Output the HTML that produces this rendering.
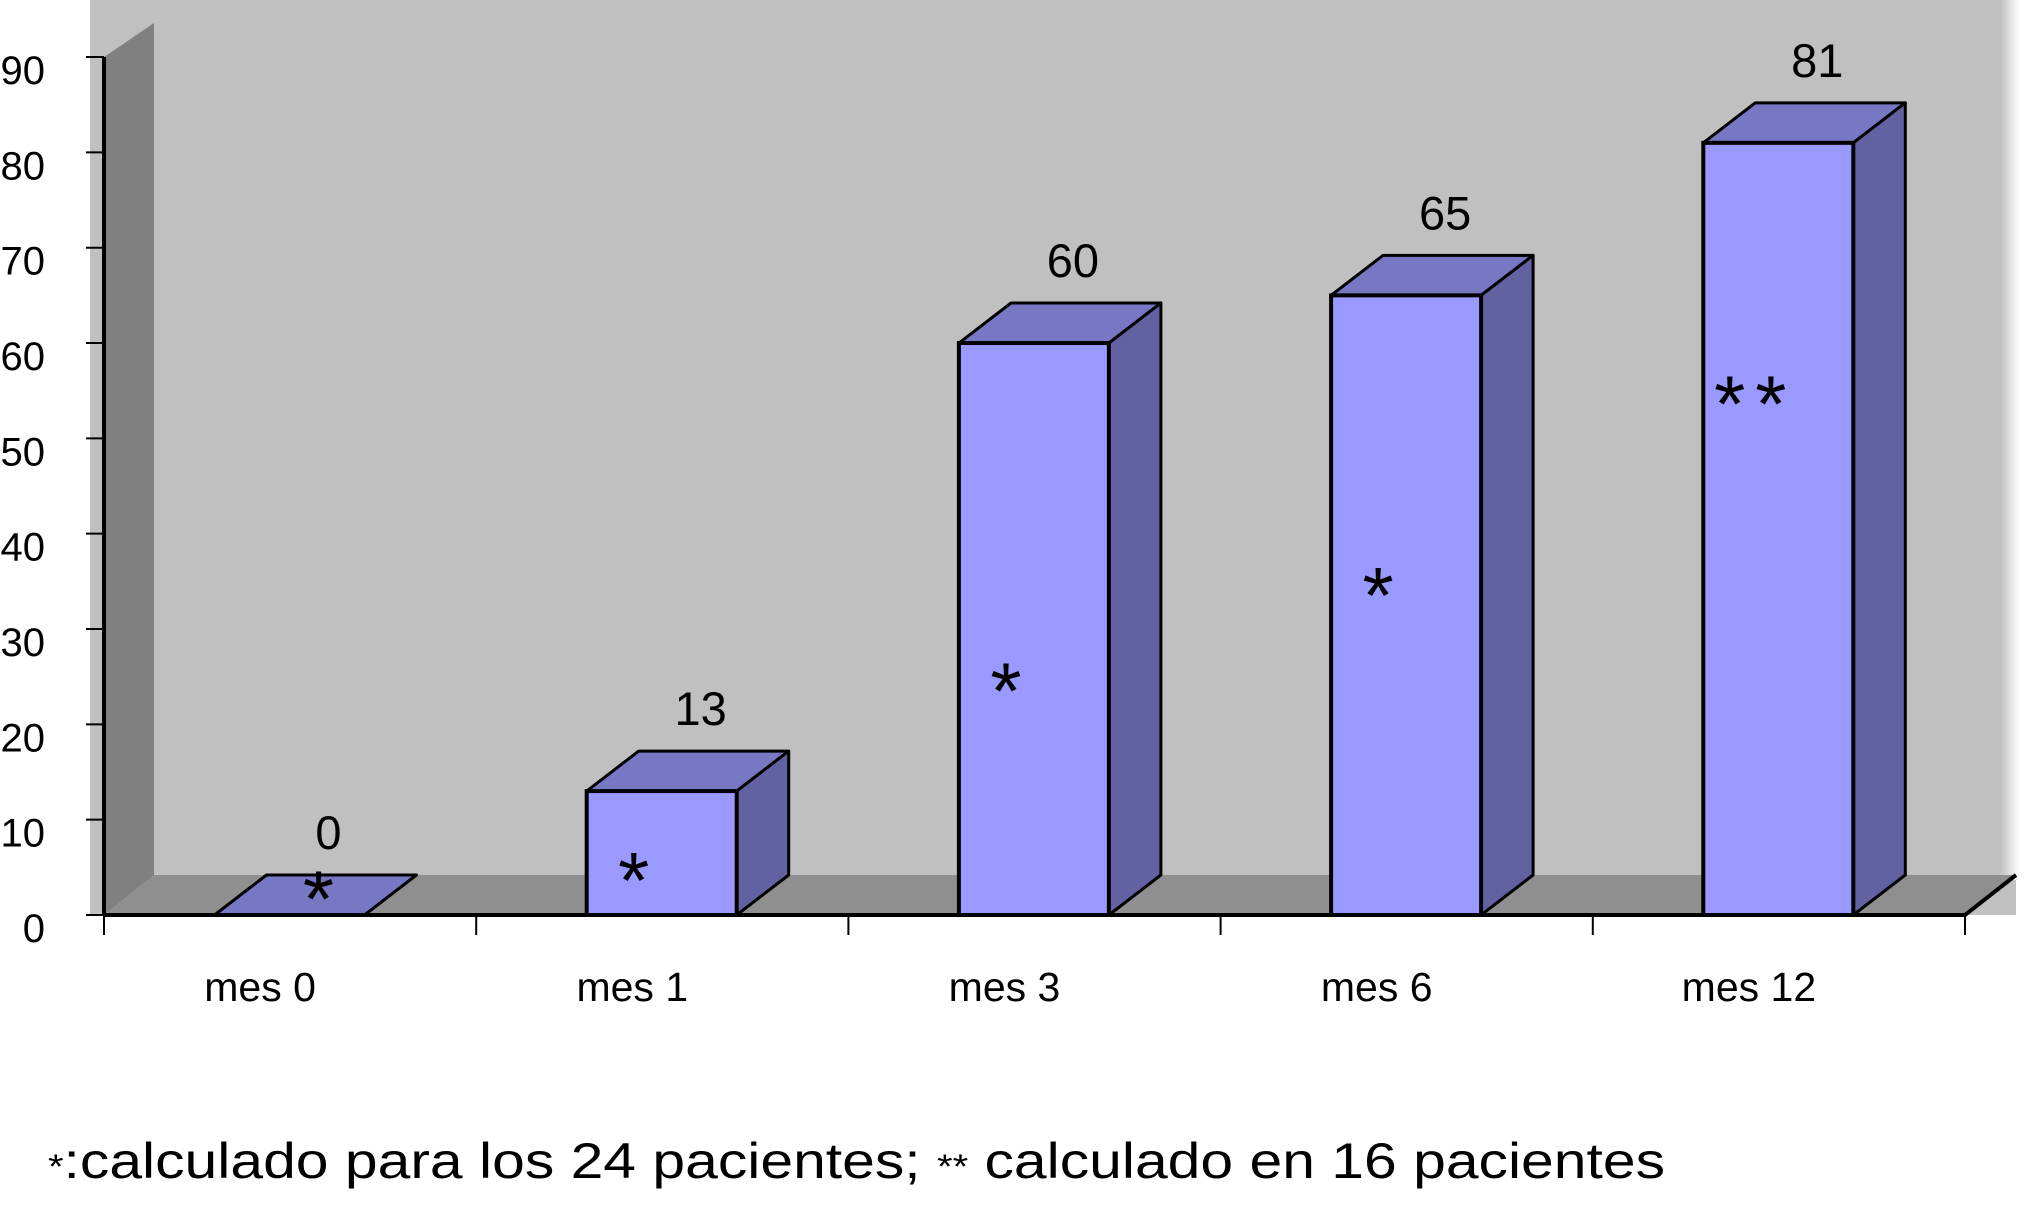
<!DOCTYPE html>
<html><head><meta charset="utf-8"><style>
html,body{margin:0;padding:0;background:#fff;width:2039px;height:1209px;overflow:hidden}
svg text{font-family:"Liberation Sans",Arial,sans-serif}
</style></head><body>
<svg id="chart" width="2039" height="1209" viewBox="0 0 2039 1209" xmlns="http://www.w3.org/2000/svg">
<defs><linearGradient id="edge" x1="0" x2="1"><stop offset="0" stop-color="#c0c0c0"/><stop offset="1" stop-color="#ffffff"/></linearGradient></defs>
<rect x="90" y="0" width="1926" height="915" fill="#c0c0c0"/>
<rect x="2000" y="0" width="20" height="880" fill="url(#edge)"/>
<g id="g"></g>
<text x="48" y="1178" font-size="50" fill="#000" textLength="1617" lengthAdjust="spacingAndGlyphs"><tspan font-size="34">*</tspan>:calculado para los 24 pacientes; <tspan font-size="34">**</tspan> calculado en 16 pacientes</text>
</svg>
<script>
const categories = ["mes 0","mes 1","mes 3","mes 6","mes 12"];
const values = [0,13,60,65,81];
const markers = ["*","*","*","*","**"];
const markerLevels = [2.8,4.7,24.6,34.6,54.7];
const yTicks = [0,10,20,30,40,50,60,70,80,90];

const NS="http://www.w3.org/2000/svg";
const g=document.getElementById('g');
const X0=104, X1=1965, Y0=915, PER=9.533, DX=50, DY=40, BDX=52, BDY=40;
const slot=(X1-X0)/categories.length;
const y=v=>Y0-v*PER;
function mk(tag,attrs,parent){const e=document.createElementNS(NS,tag);for(const k in attrs)e.setAttribute(k,attrs[k]);(parent||g).appendChild(e);return e;}

let e;
e=mk('polygon',{points:`${X0},${y(90)} ${X0+DX},${y(90)-DY+6} ${X0+DX},${Y0-DY} ${X0},${Y0}`,fill:'#808080'});


e=mk('polygon',{points:`${X0},${Y0} ${X0+DX},${Y0-DY} ${X1+DX+1},${Y0-DY} ${X1},${Y0}`,fill:'#8f8f8f'});



yTicks.forEach(t=>{
  e=mk('line',{x1:86,x2:X0,y1:y(t),y2:y(t),stroke:'#000','stroke-width':2});
  
  
  e=mk('text',{x:45,y:y(t)+27,'font-size':40,'text-anchor':'end',fill:'#000'});
  e.textContent=t;
  
  
});

values.forEach((v,i)=>{
  const L=X0+i*slot+110.5, W=150, T=y(v);
  e=mk('polygon',{points:`${L},${T} ${L+BDX},${T-BDY} ${L+W+BDX},${T-BDY} ${L+W},${T}`,fill:'#7777c4',stroke:'#000','stroke-width':3,'stroke-linejoin':'round'});
  
  
  if(v>0){
    e=mk('polygon',{points:`${L+W},${T} ${L+W+BDX},${T-BDY} ${L+W+BDX},${Y0-BDY} ${L+W},${Y0}`,fill:'#6262a2',stroke:'#000','stroke-width':3,'stroke-linejoin':'round'});
    
    
    e=mk('rect',{x:L,y:T,width:W,height:Y0-T,fill:'#9999ff',stroke:'#000','stroke-width':4});
    
    
  }
  e=mk('text',{x:L+W/2+39,y:T-BDY-26,'font-size':47,'text-anchor':'middle',fill:'#000'});
  e.textContent=v;
  
  
  const mx = i===0 ? L+109 : L+52;
  e=mk('text',{x:mx,y:y(markerLevels[i])+38,'font-size':80,'text-anchor':'middle',fill:'#000','font-family':'"Liberation Serif",serif','letter-spacing':'10'});
  e.textContent=markers[i];
  
  
  e=mk('text',{x:X0+i*slot+slot/2-30,y:1001,'font-size':41,'text-anchor':'middle',fill:'#000'});
  e.textContent=categories[i];
  
  
});

for(let i=0;i<=categories.length;i++){
  const x=X0+i*slot;
  e=mk('line',{x1:x,x2:x,y1:Y0,y2:Y0+20,stroke:'#000','stroke-width':2});
  
  
}
e=mk('line',{x1:X0,x2:X0,y1:y(90),y2:Y0,stroke:'#000','stroke-width':4});


e=mk('polyline',{points:`${X0},${Y0} ${X1},${Y0} ${X1+DX+1},${Y0-DY}`,fill:'none',stroke:'#000','stroke-width':4});


</script>
</body></html>
